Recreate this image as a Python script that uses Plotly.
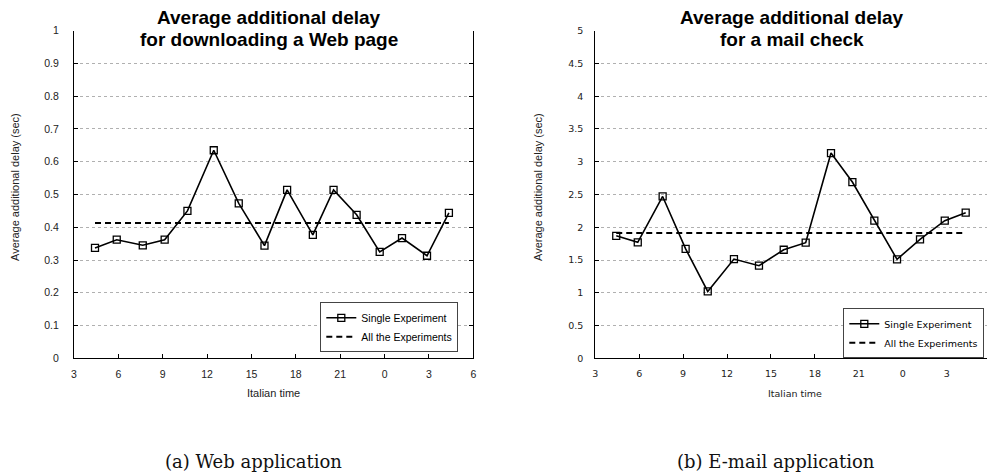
import plotly.graph_objects as go

# ---- data ----
tick_vals = [3, 6, 9, 12, 15, 18, 21, 24, 27, 30]
tick_text = ["3", "6", "9", "12", "15", "18", "21", "0", "3", "6"]

web_hours = [4.42, 5.89, 7.65, 9.13, 10.67, 12.45, 14.14, 15.88, 17.41, 19.15,
             20.55, 22.11, 23.67, 25.18, 26.87, 28.35]
web_delay = [0.337, 0.362, 0.345, 0.362, 0.450, 0.635, 0.473, 0.344, 0.514, 0.377,
             0.514, 0.438, 0.325, 0.367, 0.313, 0.444]
web_avg = 0.413

mail_hours = [4.43, 5.90, 7.60, 9.17, 10.68, 12.47, 14.18, 15.87, 17.37, 19.10,
              20.56, 22.06, 23.61, 25.18, 26.87, 28.30]
mail_delay = [1.87, 1.77, 2.47, 1.67, 1.02, 1.515, 1.413, 1.657, 1.765, 3.133,
              2.69, 2.10, 1.51, 1.816, 2.10, 2.222]
mail_avg = 1.912

web_yticks = [0, 0.1, 0.2, 0.3, 0.4, 0.5, 0.6, 0.7, 0.8, 0.9, 1]
mail_yticks = [0, 0.5, 1, 1.5, 2, 2.5, 3, 3.5, 4, 4.5, 5]

W, H = 987, 473
FONT_L = "Liberation Sans, Arial, sans-serif"
FONT_R = "DejaVu Sans, Verdana, sans-serif"

fig = go.Figure()

line_style = dict(color="black", width=1.6)
marker_style = dict(symbol="square-open", size=7, color="black", line=dict(width=1.3, color="black"))
dash_style = dict(color="black", width=2, dash="6px,4px")

fig.add_trace(go.Scatter(x=web_hours, y=web_delay, mode="lines+markers", name="Single Experiment",
                         line=line_style, marker=marker_style, xaxis="x", yaxis="y", legend="legend"))
fig.add_trace(go.Scatter(x=[web_hours[0], web_hours[-1]], y=[web_avg, web_avg], mode="lines",
                         name="All the Experiments", line=dash_style,
                         xaxis="x", yaxis="y", legend="legend"))
fig.add_trace(go.Scatter(x=mail_hours, y=mail_delay, mode="lines+markers", name="Single Experiment",
                         line=line_style, marker=marker_style, xaxis="x2", yaxis="y2", legend="legend2"))
fig.add_trace(go.Scatter(x=[mail_hours[0], mail_hours[-1]], y=[mail_avg, mail_avg], mode="lines",
                         name="All the Experiments", line=dash_style,
                         xaxis="x2", yaxis="y2", legend="legend2"))

y0 = (H - 358.3) / H
y1 = (H - 30.7) / H
lx0, lx1 = 74 / W, 473.3 / W
rx0 = 595.3 / W
px_per_hr_r = 14.64
r_end = 3 + (W - 595.3) / px_per_hr_r


def axis_common(font, size):
    return dict(showline=True, linecolor="black", linewidth=1.2, ticks="inside", ticklen=4,
                tickcolor="black", tickfont=dict(family=font, size=size, color="#222"),
                zeroline=False, fixedrange=True, automargin=False)


grid = dict(showgrid=True, gridcolor="#b0b0b0", griddash="dot", gridwidth=1)

fig.update_layout(
    width=W, height=H, margin=dict(l=0, r=0, t=0, b=0, autoexpand=False),
    paper_bgcolor="white", plot_bgcolor="white",
    font=dict(family=FONT_L, color="black"),
    xaxis=dict(domain=[lx0, lx1], range=[3, 30], tickvals=tick_vals, ticktext=tick_text,
               showgrid=False, anchor="y", ticklabelstandoff=6, **axis_common(FONT_L, 10.5)),
    yaxis=dict(domain=[y0, y1], range=[0, 1], tickvals=web_yticks, ticktext=[f"{v:g}" for v in web_yticks],
               mirror="ticks", anchor="x", ticklabelstandoff=12, **grid, **axis_common(FONT_L, 10.5)),
    xaxis2=dict(domain=[rx0, 1.0], range=[3, r_end], tickvals=tick_vals, ticktext=tick_text,
                showgrid=False, anchor="y2", ticklabelstandoff=6, **axis_common(FONT_R, 9.5)),
    yaxis2=dict(domain=[y0, y1], range=[0, 5], tickvals=mail_yticks, ticktext=[f"{v:g}" for v in mail_yticks],
                anchor="x2", ticklabelstandoff=9, **grid, **axis_common(FONT_R, 9.5)),
    legend=dict(x=458.3 / W, y=(H - 302.3) / H, xanchor="right", yanchor="top",
                bgcolor="white", bordercolor="#444", borderwidth=1,
                font=dict(family=FONT_L, size=10.5, color="black"), tracegroupgap=0, itemwidth=30),
    legend2=dict(x=984.3 / W, y=(H - 308.3) / H, xanchor="right", yanchor="top",
                 bgcolor="white", bordercolor="#444", borderwidth=1,
                 font=dict(family=FONT_R, size=9.5, color="black"), tracegroupgap=0, itemwidth=30),
    showlegend=True,
)

ann = []


def text_ann(text, x, y, font, size, color="black", angle=0):
    return dict(text=text, x=x / W, y=(H - y) / H, xref="paper", yref="paper",
                xanchor="center", yanchor="middle", showarrow=False, textangle=angle,
                font=dict(family=font, size=size, color=color))


# titles (two lines each)
ann.append(text_ann("<b>Average additional delay</b>", 269, 18, FONT_L, 19))
ann.append(text_ann("<b>for downloading a Web page</b>", 269, 40, FONT_L, 19))
ann.append(text_ann("<b>Average additional delay</b>", 792, 18, FONT_L, 19))
ann.append(text_ann("<b>for a mail check</b>", 792, 40, FONT_L, 19))
# x axis titles
ann.append(text_ann("Italian time", 273, 393, FONT_L, 11, "#222"))
ann.append(text_ann("Italian time", 795, 393, FONT_R, 9.5, "#222"))
# y axis titles
ann.append(text_ann("Average additional delay (sec)", 15, 187, FONT_L, 11, "#222", -90))
ann.append(text_ann("Average additional delay (sec)", 538, 187, FONT_L, 11, "#222", -90))
# captions
ann.append(text_ann("(a) Web application", 253, 461, "DejaVu Serif, serif", 18, "#111"))
ann.append(text_ann("(b) E-mail application", 776, 461, "DejaVu Serif, serif", 18, "#111"))
fig.update_layout(annotations=ann)

fig.write_html("out.html", config={"displayModeBar": False},
               post_script="document.body.style.margin='0';document.body.style.overflow='hidden';")
